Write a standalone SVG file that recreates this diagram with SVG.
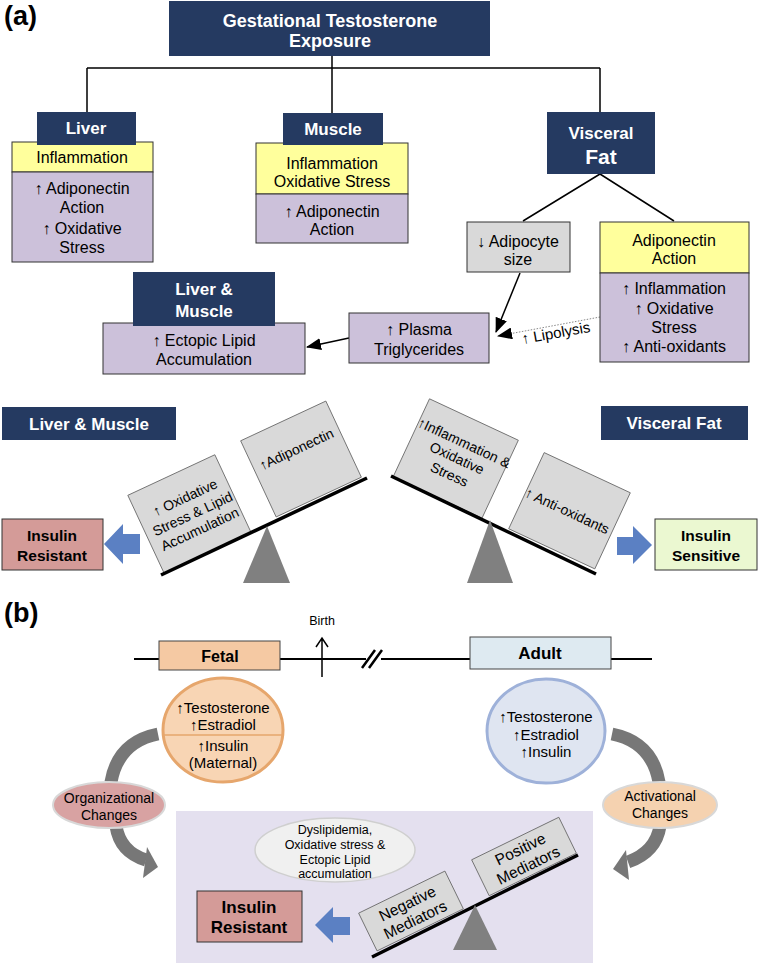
<svg xmlns="http://www.w3.org/2000/svg" width="759" height="965" viewBox="0 0 759 965">
<style>
text{font-family:"Liberation Sans",Arial,sans-serif;text-anchor:middle;fill:#000}
.hd{fill:#253a61}
.hdt{fill:#fff;font-weight:bold;font-size:17px}
.yl{fill:#ffff9c;stroke:#333;stroke-width:1}
.pu{fill:#ccc1da;stroke:#333;stroke-width:1}
.gr{fill:#d9d9d9;stroke:#333;stroke-width:1}
.t16{font-size:16px}
.t14{font-size:14px}
.bx{fill:#d9d9d9;stroke:#666;stroke-width:0.8}
.beam{stroke:#000;stroke-width:3.5;fill:none}
.ful{fill:#808080}
.blue{fill:#5b80c3}
.b{font-weight:bold}
.ln{stroke:#000;stroke-width:1.5;fill:none}
.carc{stroke:#777;stroke-width:13;fill:none}
</style>
<defs>
<marker id="ah" markerUnits="userSpaceOnUse" markerWidth="15" markerHeight="12" viewBox="0 0 15 12" refX="14" refY="6" orient="auto">
<path d="M0,0 L15,6 L0,12 z" fill="#000"/>
</marker>
</defs>

<text x="4" y="25" class="b" style="font-size:27px;text-anchor:start">(a)</text>
<text x="4" y="622" class="b" style="font-size:27px;text-anchor:start">(b)</text>

<g id="connectors">
<path class="ln" d="M332 56 V113 M87 68 H600 M87 68 V112 M600 68 V112"/>
<path class="ln" d="M600 174 L523 221 M600 174 L674 221"/>
<path class="ln" d="M520 273 L496 332" marker-end="url(#ah)"/>
<path d="M600 317 L498 336" stroke="#888" stroke-width="1" stroke-dasharray="1.5 1.5" fill="none" marker-end="url(#ah)"/>
<path class="ln" d="M349 338 L307 347" marker-end="url(#ah)"/>
</g>

<g id="title">
<rect x="169" y="1" width="321" height="55" class="hd"/>
<text x="330" y="27" class="hdt" style="font-size:18px">Gestational Testosterone</text>
<text x="330" y="47" class="hdt" style="font-size:18px">Exposure</text>
</g>

<g id="liver">
<rect x="12" y="142" width="141" height="30" class="yl"/>
<rect x="12" y="172" width="141" height="90" class="pu"/>
<rect x="37" y="112" width="99" height="33" class="hd"/>
<text x="86" y="134" class="hdt">Liver</text>
<text x="82" y="163" class="t16">Inflammation</text>
<text x="82" y="194" class="t16">↑ Adiponectin</text>
<text x="82" y="213" class="t16">Action</text>
<text x="82" y="234" class="t16">↑ Oxidative</text>
<text x="82" y="253" class="t16">Stress</text>
</g>

<g id="muscle">
<rect x="256" y="143" width="152" height="51" class="yl"/>
<rect x="256" y="194" width="152" height="49" class="pu"/>
<rect x="283" y="113" width="100" height="32" class="hd"/>
<text x="333" y="135" class="hdt">Muscle</text>
<text x="332" y="169" class="t16">Inflammation</text>
<text x="332" y="187" class="t16">Oxidative Stress</text>
<text x="332" y="217" class="t16">↑ Adiponectin</text>
<text x="332" y="235" class="t16">Action</text>
</g>

<g id="visceral-fat">
<rect x="547" y="112" width="108" height="62" class="hd"/>
<text x="601" y="139" class="hdt">Visceral</text>
<text x="601" y="164" class="hdt" style="font-size:21px">Fat</text>
</g>

<g id="adipocyte-size">
<rect x="467" y="222" width="103" height="50" class="gr"/>
<text x="518" y="247" class="t16">↓ Adipocyte</text>
<text x="518" y="265" class="t16">size</text>
</g>

<g id="adiponectin-action">
<rect x="600" y="222" width="149" height="51" class="yl"/>
<rect x="600" y="273" width="149" height="89" class="pu"/>
<text x="674" y="246" class="t16">Adiponectin</text>
<text x="674" y="264" class="t16">Action</text>
<text x="674" y="294" class="t16">↑ Inflammation</text>
<text x="674" y="314" class="t16">↑ Oxidative</text>
<text x="674" y="333" class="t16">Stress</text>
<text x="674" y="352" class="t16">↑ Anti-oxidants</text>
</g>

<g id="plasma-tg">
<rect x="349" y="313" width="140" height="50" class="pu"/>
<text x="419" y="335" class="t16">↑ Plasma</text>
<text x="419" y="355" class="t16">Triglycerides</text>
</g>

<g id="liver-muscle-ectopic">
<rect x="103" y="323" width="202" height="51" class="pu"/>
<rect x="133" y="272" width="142" height="54" class="hd"/>
<text x="204" y="295" class="hdt">Liver &amp;</text>
<text x="204" y="317" class="hdt">Muscle</text>
<text x="204" y="346" class="t16">↑ Ectopic Lipid</text>
<text x="204" y="365" class="t16">Accumulation</text>
</g>

<g id="lipolysis-label">
<text x="556" y="338" style="font-size:15px" transform="rotate(-10 556 333)">↑ Lipolysis</text>
</g>

<g id="liver-muscle-label">
<rect x="2" y="407" width="174" height="33" class="hd"/>
<text x="89" y="430" class="hdt">Liver &amp; Muscle</text>
</g>

<g id="visceral-fat-label">
<rect x="601" y="406" width="147" height="34" class="hd"/>
<text x="674" y="429" class="hdt">Visceral Fat</text>
</g>

<g id="balance-left">
<g transform="translate(189.5 514) rotate(-25)">
<rect x="-48" y="-43" width="96" height="86" class="bx"/>
<text x="3" y="-12" class="t14">↑ Oxidative</text>
<text x="3" y="6" class="t14">Stress &amp; Lipid</text>
<text x="3" y="23" class="t14">Accumulation</text>
</g>
<g transform="translate(301 459) rotate(-25)">
<rect x="-47" y="-42" width="94" height="84" class="bx"/>
<text x="0" y="-6" class="t14">↑Adiponectin</text>
</g>
<path class="beam" d="M161 575 L367 478"/>
<polygon class="ful" points="267,526 290,583 243,583"/>
</g>

<g id="balance-right">
<g transform="translate(455.75 458.5) rotate(25)">
<rect x="-49" y="-43" width="98" height="86" class="bx"/>
<text x="1" y="-13" class="t14">↑Inflammation &amp;</text>
<text x="1" y="4" class="t14">Oxidative</text>
<text x="1" y="22" class="t14">Stress</text>
</g>
<g transform="translate(569.5 510.75) rotate(25)">
<rect x="-47.5" y="-42" width="95" height="84" class="bx"/>
<text x="-2" y="6" class="t14">↑ Anti-oxidants</text>
</g>
<path class="beam" d="M391 476 L596 574"/>
<polygon class="ful" points="490,520 513,583 467,583"/>
</g>

<g id="insulin-resistant-a">
<rect x="2" y="519" width="101" height="51" fill="#d49b98" stroke="#333" stroke-width="1"/>
<text x="52" y="541" class="b" style="font-size:15.5px">Insulin</text>
<text x="52" y="561" class="b" style="font-size:15.5px">Resistant</text>
<polygon class="blue" points="104,544 123,524 123,534 140,534 140,554 123,554 123,564"/>
</g>

<g id="insulin-sensitive-a">
<rect x="655" y="519" width="102" height="51" fill="#ebf8d1" stroke="#333" stroke-width="1"/>
<text x="706" y="541" class="b" style="font-size:15.5px">Insulin</text>
<text x="706" y="561" class="b" style="font-size:15.5px">Sensitive</text>
<polygon class="blue" points="652,545 633,526 633,537 617,537 617,555 633,555 633,564"/>
</g>

<g id="timeline">
<path d="M134 659 H366 M381 659 H652" stroke="#000" stroke-width="2" fill="none"/>
<path d="M362 668 L375 650 M369 668 L382 650" stroke="#000" stroke-width="2.5" fill="none"/>
<path d="M322 677 V638 M316 647 L322 638 L328 647" stroke="#000" stroke-width="1.5" fill="none"/>
<text x="322" y="625" style="font-size:12.5px">Birth</text>
</g>

<g id="fetal">
<rect x="159" y="641" width="121" height="29" fill="#f5c9a3" stroke="#444" stroke-width="1"/>
<text x="220" y="662" class="b t16">Fetal</text>
</g>

<g id="adult">
<rect x="470" y="637" width="141" height="32" fill="#deeaf1" stroke="#444" stroke-width="1"/>
<text x="540" y="659" class="b" style="font-size:17px">Adult</text>
</g>

<g id="fetal-hormones">
<ellipse cx="223" cy="730" rx="60" ry="52" fill="#f8d5b4" stroke="#e6a66c" stroke-width="3"/>
<line x1="164" y1="735" x2="282" y2="735" stroke="#e6a66c" stroke-width="1.5"/>
<text x="223" y="713" style="font-size:15px">↑Testosterone</text>
<text x="223" y="730" style="font-size:15px">↑Estradiol</text>
<text x="223" y="751" style="font-size:15px">↑Insulin</text>
<text x="223" y="768" style="font-size:15px">(Maternal)</text>
</g>

<g id="adult-hormones">
<ellipse cx="546" cy="731" rx="59" ry="52" fill="#dfe5f1" stroke="#9eb1d9" stroke-width="3"/>
<text x="546" y="722" style="font-size:15px">↑Testosterone</text>
<text x="546" y="740" style="font-size:15px">↑Estradiol</text>
<text x="546" y="757" style="font-size:15px">↑Insulin</text>
</g>

<g id="curved-arrows">
<path class="carc" d="M158 734 Q118 742 111 782"/>
<path class="carc" d="M116 826 Q120 852 146 860"/>
<polygon fill="#777" points="147,847 158,867 143,878"/>
<path class="carc" d="M612 734 Q652 742 659 782"/>
<path class="carc" d="M660 826 Q656 852 628 862"/>
<polygon fill="#777" points="626,850 613,869 629,880"/>
</g>

<g id="organizational">
<ellipse cx="109" cy="805" rx="56" ry="23" fill="#d8a2a2" stroke="#d8d8d8" stroke-width="2"/>
<text x="109" y="803" class="t14">Organizational</text>
<text x="109" y="820" class="t14">Changes</text>
</g>

<g id="activational">
<ellipse cx="660" cy="805" rx="57" ry="23" fill="#f5d2b0" stroke="#d8d8d8" stroke-width="2"/>
<text x="660" y="801" class="t14">Activational</text>
<text x="660" y="818" class="t14">Changes</text>
</g>

<g id="outcome-panel">
<rect x="176" y="811" width="417" height="152" fill="#e4e0ef"/>
</g>

<g id="dyslipidemia">
<ellipse cx="335" cy="850" rx="80" ry="32" fill="#f0f0f0" stroke="#cfcfcf" stroke-width="1.5"/>
<text x="335" y="834" style="font-size:12.5px">Dyslipidemia,</text>
<text x="335" y="849" style="font-size:12.5px">Oxidative stress &amp;</text>
<text x="335" y="864" style="font-size:12.5px">Ectopic Lipid</text>
<text x="335" y="878" style="font-size:12.5px">accumulation</text>
</g>

<g id="insulin-resistant-b">
<rect x="197" y="891" width="105" height="51" fill="#d49b98" stroke="#333" stroke-width="1"/>
<text x="249" y="913" class="b" style="font-size:17px">Insulin</text>
<text x="249" y="933" class="b" style="font-size:17px">Resistant</text>
<polygon class="blue" points="315,925 333,907 333,917 350,917 350,935 333,935 333,943"/>
</g>

<g id="balance-b">
<g transform="translate(411 911) rotate(-26)">
<rect x="-48" y="-21" width="96" height="42" class="bx"/>
<text x="0" y="-3" style="font-size:15.5px">Negative</text>
<text x="0" y="15" style="font-size:15.5px">Mediators</text>
</g>
<g transform="translate(524 856.5) rotate(-26)">
<rect x="-48.5" y="-20" width="97" height="40" class="bx"/>
<text x="0" y="-3" style="font-size:15.5px">Positive</text>
<text x="0" y="15" style="font-size:15.5px">Mediators</text>
</g>
<path class="beam" d="M372 957 L578 855"/>
<polygon class="ful" points="475,905 497,950 453,950"/>
</g>
</svg>
